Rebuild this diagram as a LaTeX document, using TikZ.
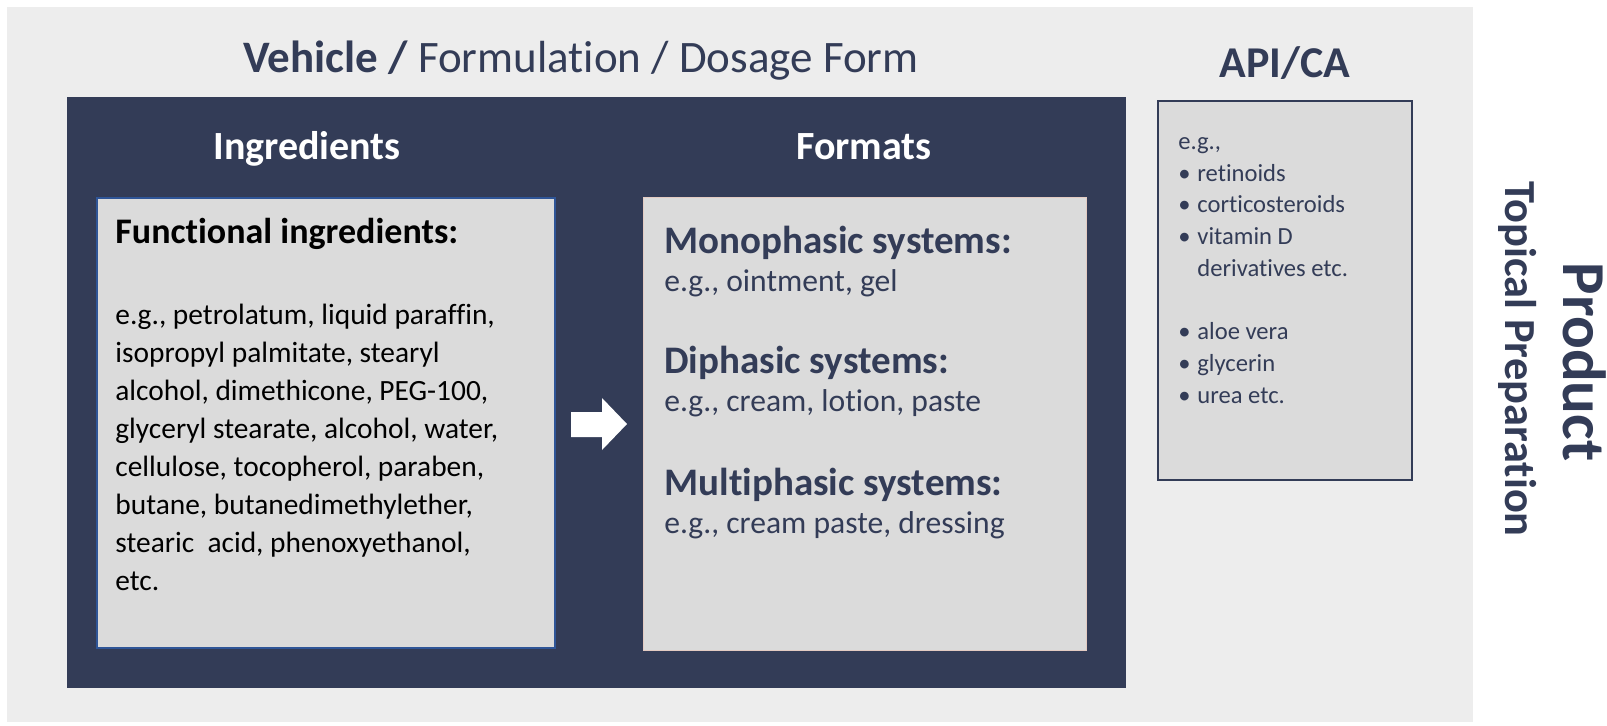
\documentclass[tikz,border=0pt]{standalone}
\usepackage{fontspec}
\setmainfont{Carlito}[Ligatures=NoCommon]
\definecolor{navy}{HTML}{333C57}
\definecolor{paleback}{HTML}{EDEDED}
\definecolor{boxgrey}{HTML}{DBDBDB}
\definecolor{edgeblue}{HTML}{2F5597}
\definecolor{edgepink}{HTML}{E3CBC2}
\newcommand{\fsz}[2]{\fontsize{#1}{#2}\selectfont}
\newcommand{\apiitem}[1]{\makebox[9.5pt][l]{\textbullet}#1}
\begin{document}
\begin{tikzpicture}[x=0.5pt,y=-0.5pt,
  panel/.style={anchor=north west,inner sep=0pt,outer sep=0pt},
  txt/.style={anchor=base west,inner sep=0pt,text=navy,align=left}]
\useasboundingbox (0,0) rectangle (1607,725);
\fill[paleback] (7,7) rectangle (1473,722);
% boxes
\node[panel,fill=navy,minimum width=529.5pt,minimum height=295.5pt] (vehicle) at (67,97) {};
\node[panel,fill=boxgrey,draw=edgeblue,line width=1pt,minimum width=229pt,minimum height=225pt] (ingbox) at (97,198) {};
\node[panel,fill=boxgrey,draw=edgepink,line width=0.5pt,minimum width=221.5pt,minimum height=226.5pt] (fmtbox) at (643,197) {};
\node[panel,fill=boxgrey,draw=navy,line width=1pt,minimum width=127pt,minimum height=189.5pt] (apibox) at (1158,101) {};
\fill[white] (571,412) -- (602,412) -- (602,398) -- (627,424) -- (602,450) -- (602,437) -- (571,437) -- cycle;
% headings
\node[txt,anchor=base,font=\fsz{22.5}{27}] (title) at (581,72) {\textbf{Vehicle /} Formulation / Dosage Form};
\node[txt,anchor=base,font=\bfseries\fsz{22}{27}] (apihead) at (1285,77) {API/CA};
\node[txt,anchor=base,text=white,font=\bfseries\fsz{20}{24}] (inghead) at (307,159) {Ingredients};
\node[txt,anchor=base,text=white,font=\bfseries\fsz{20}{24}] (fmthead) at (864,159) {Formats};
% ingredients (base = last line)
\node[txt,text=black,font=\bfseries\fsz{18}{22}] (funchead) at (115,243) {Functional ingredients:};
\node[txt,text=black,font=\fsz{14.7}{18.95}] (funclist) at (115,590) {e.g., petrolatum, liquid paraffin,\\
  isopropyl palmitate, stearyl\\alcohol, dimethicone, PEG-100,\\glyceryl stearate, alcohol, water,\\
  cellulose, tocopherol, paraben,\\butane, butanedimethylether,\\stearic\ \ acid, phenoxyethanol,\\etc.};
% formats
\foreach \h/\b/\y [count=\i] in {Monophasic systems:/{e.g., ointment, gel}/253,
    Diphasic systems:/{e.g., cream, lotion, paste}/373,
    Multiphasic systems:/{e.g., cream paste, dressing}/495} {
  \node[txt,font=\bfseries\fsz{19.5}{24}] (sys\i) at (664,\y) {\h};
  \node[txt,font=\fsz{15.8}{19}] (eg\i) at (664,\y+38) {\b};
}
% API/CA (base = last line)
\node[txt,font=\fsz{12.3}{15.85}] (apilist) at (1178,403) {e.g.,\\\apiitem{retinoids}\\\apiitem{corticosteroids}\\
  \apiitem{vitamin D}\\\hspace*{9.5pt}derivatives etc.\\[15.85pt]\apiitem{aloe vera}\\\apiitem{glycerin}\\\apiitem{urea etc.}};
% product
\node[anchor=base,rotate=-90,inner sep=0pt,text=navy,font=\bfseries\fsz{30.5}{36}] (product) at (1563,362) {Product};
\node[anchor=base,rotate=-90,inner sep=0pt,text=navy,font=\bfseries\fsz{22.2}{27}] (topical) at (1505,359) {Topical Preparation};
\end{tikzpicture}
\end{document}
